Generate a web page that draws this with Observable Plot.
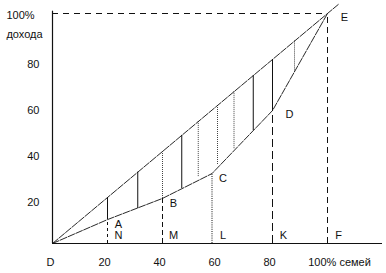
<!DOCTYPE html>
<html>
<head>
<meta charset="utf-8">
<script src="https://cdn.jsdelivr.net/npm/d3@7"></script>
<script src="https://cdn.jsdelivr.net/npm/@observablehq/plot@0.6"></script>
<style>
  html, body { margin: 0; padding: 0; background: #fff; }
</style>
</head>
<body>
<div id="chart"></div>
<script>
// Lorenz curve points (share of families %, share of income %)
const curveX = [0, 20, 40, 58, 80, 100];
const curveY = [0, 10.4, 19.6, 30.4, 57.8, 100];
const curveLabels = ["D", "A", "B", "C", "D", "E"];

// Line of absolute equality (extends slightly past E)
const diagX = [0, 104];
const diagY = [0, 104];

// Vertical drop lines from the curve to the x axis
const dropX = [20, 40, 58, 80, 100];
const dropTop = [10.4, 19.6, 30.4, 57.8, 100];
const dropLabels = ["N", "M", "L", "K", "F"];

// Hatching between the equality line and the Lorenz curve
const hatchX = [20, 31, 40, 47, 53, 60, 66, 73, 80, 88];
const hatchBottom = [10.4, 15.2, 19.6, 23.9, 28.7, 33.9, 40.9, 49.1, 57.8, 74.3];

// Tick labels
const xTicks = [20, 40, 60, 80];
const yTicks = [20, 40, 60, 80];
const xEndLabel = "100% семей";
const yEndLabel = ["100%", "дохода"];

const curve = curveX.map((x, i) => ({x, y: curveY[i], label: curveLabels[i]}));
const diag = diagX.map((x, i) => ({x, y: diagY[i]}));
const drops = dropX.map((x, i) => ({x, y: dropTop[i], label: dropLabels[i]}));
const hatch = hatchX.map((x, i) => ({x, y1: x, y2: hatchBottom[i], i}));

const solidHatch = new Set([0, 1, 3, 7, 8]);
const dropDash = ["3,3", "5,3", "1,1.2", "8,4", "6,4"];

const font = "Liberation Sans, Arial, Helvetica, sans-serif";
const ink = "#111";

const marks = [
  // axes lines
  Plot.ruleY([0], {x1: 0, x2: 120, stroke: ink, strokeWidth: 1.2}),
  Plot.ruleX([0], {y1: 0, y2: 101, stroke: ink, strokeWidth: 1.2}),
  // top dashed line at 100%
  Plot.ruleY([100], {x1: 0, x2: 100, stroke: ink, strokeWidth: 1, strokeDasharray: "6,5"}),
  // drop lines
  ...drops.map((d, i) => Plot.ruleX([d], {x: "x", y1: 0, y2: "y", stroke: ink, strokeWidth: 1, strokeDasharray: dropDash[i]})),
  // hatching
  Plot.ruleX(hatch.filter(d => solidHatch.has(d.i)), {x: "x", y1: "y1", y2: "y2", stroke: ink, strokeWidth: 1}),
  Plot.ruleX(hatch.filter(d => !solidHatch.has(d.i)), {x: "x", y1: "y1", y2: "y2", stroke: "#444", strokeWidth: 1, strokeDasharray: "1,1"}),
  // equality line and Lorenz curve
  Plot.line(diag, {x: "x", y: "y", stroke: ink, strokeWidth: 0.9, strokeDasharray: "7,1.5"}),
  Plot.line(curve, {x: "x", y: "y", stroke: ink, strokeWidth: 0.9, strokeDasharray: "7,1.5"}),
  // point letters
  Plot.text(curve.slice(0, 1), {x: "x", y: "y", text: "label", dx: -2, dy: 19, fontSize: 11, fill: ink}),
  Plot.text(curve.slice(1, 4), {x: "x", y: "y", text: "label", dx: 11, dy: 5, fontSize: 11, fill: ink}),
  Plot.text(curve.slice(4), {x: "x", y: "y", text: "label", dx: 17, dy: 4, fontSize: 11, fill: ink}),
  Plot.text(drops, {x: "x", y: 0, text: "label", dx: 11, dy: -8, fontSize: 11, fill: ink}),
  // tick labels
  Plot.text(xTicks, {x: d => d, y: 0, text: d => String(d), dx: -3, dy: 19, fontSize: 11, fill: ink}),
  Plot.text(yTicks, {x: 0, y: d => d, text: d => String(d), textAnchor: "end", dx: -13, dy: 5, fontSize: 11, fill: ink}),
  Plot.text([xEndLabel], {x: 100, y: 0, text: d => d, dx: 12, dy: 19, fontSize: 11, fill: ink}),
  Plot.text([yEndLabel[0]], {x: 0, y: 100, text: d => d, dx: -32, dy: 2, fontSize: 11, fill: ink}),
  Plot.text([yEndLabel[1]], {x: 0, y: 100, text: d => d, dx: -28, dy: 21, fontSize: 11, fill: ink})
];

const chart = Plot.plot({
  width: 386,
  height: 273,
  marginLeft: 52,
  marginRight: 4,
  marginTop: 13,
  marginBottom: 30,
  x: {domain: [0, 120], axis: null},
  y: {domain: [0, 100], axis: null},
  style: {fontFamily: font, fontSize: "11px", background: "#fff", overflow: "visible"},
  marks
});
document.getElementById("chart").appendChild(chart);
</script>
</body>
</html>
